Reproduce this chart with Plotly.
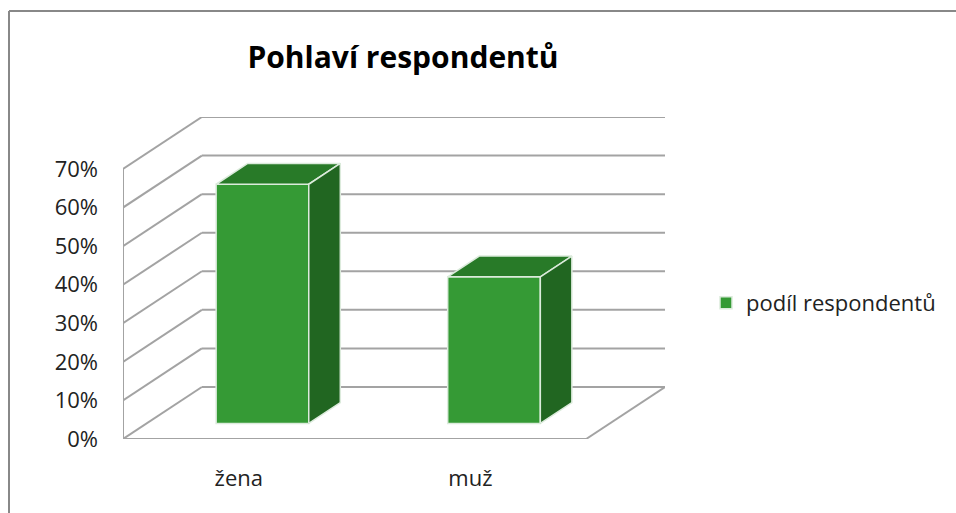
import plotly.graph_objects as go

# ---- data ----
categories = ["žena", "muž"]
values = [62, 38]                      # percent
series_name = "podíl respondentů"
tick_values = [0, 10, 20, 30, 40, 50, 60, 70]
tick_labels = ["0%", "10%", "20%", "30%", "40%", "50%", "60%", "70%"]
title_text = "Pohlaví respondentů"

# ---- 3D-look geometry (in axis units) ----
DX = 0.3405        # depth offset along x (category units)
DY = 13.48         # depth offset along y (percent units)
BAR_HALF = 0.2     # half bar width (category units)
D0, D1 = 0.3, 0.7  # bar front / back depth fractions
X_MIN = -0.5
X_MAX = len(categories) - 0.5 + DX
Y_MAX = tick_values[-1] + DY

C_FRONT = "#359a35"
C_TOP = "#287a28"
C_SIDE = "#216621"
C_EDGE = "#dcebdc"
C_GRID = "#a3a3a3"

xs = list(range(len(categories)))

fig = go.Figure()

# front faces as real bars
fig.add_trace(go.Bar(
    x=[i + D0 * DX for i in xs], y=values, base=[D0 * DY] * len(values),
    width=2 * BAR_HALF, name=series_name,
    marker=dict(color=C_FRONT, line=dict(color=C_EDGE, width=1.5)),
    showlegend=True, hoverinfo="skip",
))

# top and side faces
for i, v in zip(xs, values):
    xl, xr = i - BAR_HALF, i + BAR_HALF
    top_x = [xl + D0 * DX, xr + D0 * DX, xr + D1 * DX, xl + D1 * DX, xl + D0 * DX]
    top_y = [v + D0 * DY, v + D0 * DY, v + D1 * DY, v + D1 * DY, v + D0 * DY]
    fig.add_trace(go.Scatter(x=top_x, y=top_y, fill="toself", fillcolor=C_TOP,
                             mode="lines", line=dict(color=C_EDGE, width=1.5),
                             showlegend=False, hoverinfo="skip"))
    side_x = [xr + D0 * DX, xr + D1 * DX, xr + D1 * DX, xr + D0 * DX, xr + D0 * DX]
    side_y = [D0 * DY, D1 * DY, v + D1 * DY, v + D0 * DY, D0 * DY]
    fig.add_trace(go.Scatter(x=side_x, y=side_y, fill="toself", fillcolor=C_SIDE,
                             mode="lines", line=dict(color=C_EDGE, width=1.5),
                             showlegend=False, hoverinfo="skip"))

# walls / gridlines (drawn below traces)
shapes = []
line_style = dict(color=C_GRID, width=2)
for t in tick_values:
    # left wall slanted line
    shapes.append(dict(type="line", xref="x", yref="y", x0=X_MIN, y0=t,
                       x1=X_MIN + DX, y1=t + DY, line=line_style, layer="below"))
    # back wall horizontal line
    shapes.append(dict(type="line", xref="x", yref="y", x0=X_MIN + DX, y0=t + DY,
                       x1=X_MAX, y1=t + DY, line=line_style, layer="below"))
# front vertical edge of left wall
shapes.append(dict(type="line", xref="x", yref="y", x0=X_MIN, y0=0,
                   x1=X_MIN, y1=tick_values[-1], line=line_style, layer="below"))
# floor front + right edges
shapes.append(dict(type="line", xref="x", yref="y", x0=X_MIN, y0=0,
                   x1=len(categories) - 0.5, y1=0, line=line_style, layer="below"))
shapes.append(dict(type="line", xref="x", yref="y", x0=len(categories) - 0.5, y0=0,
                   x1=X_MAX, y1=DY, line=line_style, layer="below"))

# chart frame (top and left borders)
W, H = 956, 513
ML, MR, MT, MB = 123, 291, 117, 74
pw, ph = W - ML - MR, H - MT - MB
def px_x(p):
    return (p - ML) / pw
def px_y(p):
    return (H - MB - p) / ph
frame = dict(color="#888888", width=2)
shapes.append(dict(type="line", xref="paper", yref="paper", x0=px_x(9), y0=px_y(11),
                   x1=px_x(W + 5), y1=px_y(11), line=frame, layer="below"))
shapes.append(dict(type="line", xref="paper", yref="paper", x0=px_x(9), y0=px_y(11),
                   x1=px_x(9), y1=px_y(H + 5), line=frame, layer="below"))

fig.update_layout(
    width=W, height=H,
    margin=dict(l=ML, r=MR, t=MT, b=MB, autoexpand=False),
    paper_bgcolor="white", plot_bgcolor="rgba(0,0,0,0)",
    shapes=shapes,
    title=dict(text=title_text, x=403 / W, xanchor="center", xref="container",
               y=1 - 57 / H, yanchor="middle", yref="container",
               font=dict(family="Open Sans", size=30, color="#000000", weight="bold")),
    xaxis=dict(range=[X_MIN, X_MAX], tickvals=xs, ticktext=categories,
               showgrid=False, zeroline=False, showline=False, ticks="",
               ticklabelstandoff=24, fixedrange=True,
               tickfont=dict(family="Open Sans", size=22, color="#222222")),
    yaxis=dict(range=[0, Y_MAX], tickvals=tick_values, ticktext=tick_labels,
               showgrid=False, zeroline=False, showline=False, ticks="",
               ticklabelstandoff=24, fixedrange=True,
               tickfont=dict(family="Open Sans", size=22, color="#222222")),
    legend=dict(x=px_x(706), xanchor="left", y=px_y(303), yanchor="middle",
                font=dict(family="Open Sans", size=22, color="#222222"),
                bgcolor="rgba(0,0,0,0)"),
    showlegend=True,
)

fig.write_html("out.html", config={"displayModeBar": False},
               post_script="document.body.style.margin='0';document.body.style.overflow='hidden';")
